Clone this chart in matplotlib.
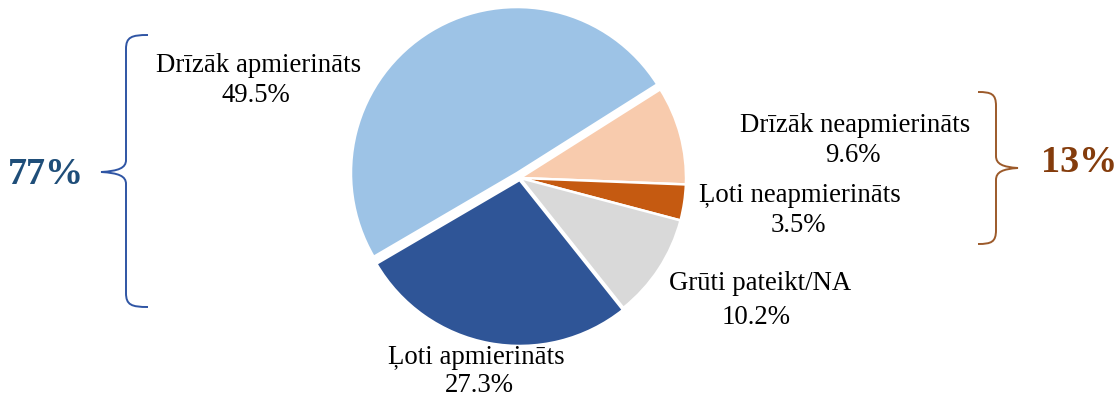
import matplotlib
matplotlib.use("Agg")
import matplotlib.pyplot as plt
from matplotlib.path import Path
from matplotlib.patches import PathPatch

plt.rcParams['font.family'] = ['Liberation Serif', 'DejaVu Serif']

# data (clockwise, first slice starts a bit below the 3 o'clock line)
categories = ['Ļoti apmierināts', 'Drīzāk apmierināts', 'Drīzāk neapmierināts',
              'Ļoti neapmierināts', 'Grūti pateikt/NA']
shares = [27.3, 49.5, 9.6, 3.5, 10.2]
colors = ['#2F5597', '#9DC3E6', '#F8CBAD', '#C55A11', '#D9D9D9']
explode = [0.012, 0.035, 0.0, 0.0, 0.0]
satisfied_total = '77%'
unsatisfied_total = '13%'

W, H = 1119, 405
fig = plt.figure(figsize=(W / 100, H / 100), dpi=100)

# pie axes, centre ~ (520,178) px, radius ~166 px
cx, cy, r = 520, 178, 166
ax = fig.add_axes([(cx - r) / W, (H - cy - r) / H, 2 * r / W, 2 * r / H])
wedges, _ = ax.pie(shares, colors=colors, startangle=-51.5, counterclock=False,
                   explode=explode,
                   wedgeprops=dict(edgecolor='white', linewidth=1.8))
ax.set_xlim(-1, 1)
ax.set_ylim(-1, 1)
ax.set_aspect('auto')
ax.axis('off')
for w in wedges:
    w.set_clip_on(False)

# overlay in pixel coordinates for labels and braces
ov = fig.add_axes([0, 0, 1, 1], zorder=3)
ov.set_xlim(0, W)
ov.set_ylim(H, 0)
ov.axis('off')
ov.patch.set_alpha(0)

label_pos = {
    'Ļoti apmierināts': ((476, 358), (479, 385)),
    'Drīzāk apmierināts': ((259, 65), (256, 95)),
    'Drīzāk neapmierināts': ((855, 125), (853, 155)),
    'Ļoti neapmierināts': ((800, 195), (798, 225)),
    'Grūti pateikt/NA': ((760, 284), (756, 317)),
}
for cat, val in zip(categories, shares):
    (x1, y1), (x2, y2) = label_pos[cat]
    ov.text(x1, y1, cat, fontsize=19.3, ha='center', va='center', color='black')
    ov.text(x2, y2, f'{val:.1f}%', fontsize=19.3, ha='center', va='center', color='black')


def brace(a, x_end, x_v, x_tip, y_top, y_tip, y_bot, color):
    d = x_v - x_end
    verts = [
        (x_end, y_top),
        (x_end + 0.75 * d, y_top), (x_v, y_top + 2), (x_v, y_top + 14),
        (x_v, y_tip - 12),
        (x_v, y_tip - 4), (x_v + 0.3 * (x_tip - x_v), y_tip - 1), (x_tip, y_tip),
        (x_v + 0.3 * (x_tip - x_v), y_tip + 1), (x_v, y_tip + 4), (x_v, y_tip + 12),
        (x_v, y_bot - 14),
        (x_v, y_bot - 2), (x_end + 0.75 * d, y_bot), (x_end, y_bot),
    ]
    codes = [Path.MOVETO, Path.CURVE4, Path.CURVE4, Path.CURVE4, Path.LINETO,
             Path.CURVE4, Path.CURVE4, Path.CURVE4,
             Path.CURVE4, Path.CURVE4, Path.CURVE4, Path.LINETO,
             Path.CURVE4, Path.CURVE4, Path.CURVE4]
    a.add_patch(PathPatch(Path(verts, codes), fill=False, edgecolor=color, lw=1.4))


brace(ov, 148, 126, 101, 35, 172, 307, '#2F55A4')
brace(ov, 978, 996, 1018, 92, 168, 244, '#9C5A2A')

ov.text(46, 174, satisfied_total, fontsize=27.5, fontweight='bold', color='#1F4E79',
        ha='center', va='center')
ov.text(1079, 163, unsatisfied_total, fontsize=27.5, fontweight='bold', color='#843C0C',
        ha='center', va='center')

fig.savefig('out.png', dpi=100)
